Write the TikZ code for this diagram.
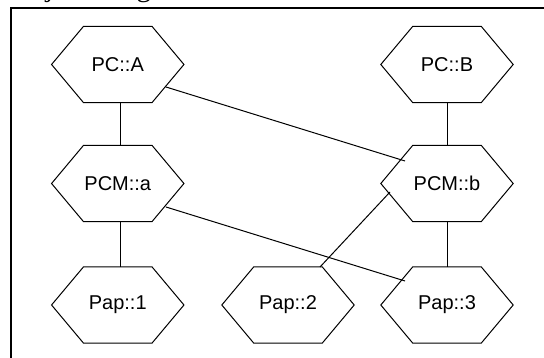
\documentclass[tikz,border=0pt]{standalone}
\usepackage{fontspec}
\setmainfont{Liberation Sans}
\newfontfamily\capfont{Liberation Serif}
\usetikzlibrary{calc}
% outline of a flat-topped hexagon around a named box node
\newcommand\hexoutline[1]{%
  \draw[hexline] (#1.west) -- ([xshift=32pt]#1.north west) -- ([xshift=-32pt]#1.north east)
    -- (#1.east) -- ([xshift=-32pt]#1.south east) -- ([xshift=32pt]#1.south west) -- cycle;}
\begin{document}
\begin{tikzpicture}[x=1pt,y=-1pt,
  hexbox/.style={minimum width=132pt,minimum height=76pt,inner sep=0pt,
    font=\fontsize{20}{24}\selectfont},
  hexline/.style={draw=black,line width=1pt,line join=miter},
  link/.style={draw=black,line width=1pt},
  frameline/.style={draw=black,line width=2pt}]
\useasboundingbox (0,0) rectangle (544,358);
\begin{scope}
  \clip (0,0) rectangle (544,358);
  \node[font=\capfont\fontsize{29}{34}\selectfont,anchor=base west,inner sep=0pt]
    (title) at (10,-3) {Object Diagram};
\end{scope}
\draw[frameline] (11,358) -- (11,7.7) -- (544,7.7);

% objects
\node[hexbox] (pcA)  at (117.75,64.5)  {PC::A};
\node[hexbox] (pcB)  at (447,64.5)     {PC::B};
\node[hexbox] (pcma) at (117.75,183.5) {PCM::a};
\node[hexbox] (pcmb) at (447,183.5)    {PCM::b};
\node[hexbox] (pap1) at (117.75,305)   {Pap::1};
\node[hexbox] (pap2) at (288,305)      {Pap::2};
\node[hexbox] (pap3) at (447,305)      {Pap::3};
\foreach \n in {pcA,pcB,pcma,pcmb,pap1,pap2,pap3}{\hexoutline{\n}}

% links
\draw[link] ([xshift=2.25pt]pcA.south) -- ([xshift=2.25pt]pcma.north);
\draw[link] ([xshift=2.25pt]pcma.south) -- ([xshift=2.25pt]pap1.north);
\draw[link] (pcB.south) -- (pcmb.north);
\draw[link] (pcmb.south) -- (pap3.north);
\draw[link] ($(pcA)+(48.25,22.5)$) -- ($(pcmb)+(-42,-22.5)$);
\draw[link] ($(pcma)+(48.25,23.5)$) -- ($(pap3)+(-42,-24)$);
\draw[link] ($(pap2)+(32,-38)$) -- ($(pcmb)+(-57,8.5)$);
\end{tikzpicture}
\end{document}
